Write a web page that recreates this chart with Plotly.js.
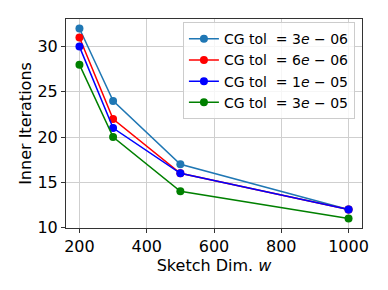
<!DOCTYPE html>
<html>
<head>
<script src="https://cdn.plot.ly/plotly-3.0.1.min.js"></script>
<style>body{margin:0;padding:0;background:#fff;} #chart{width:388px;height:290px;}</style>
</head>
<body>
<div id="chart"></div>
<script>
var sketchDims = [200, 300, 500, 1000];
var seriesNames = ["CG tol  = 3<i>e</i> − 06", "CG tol  = 6<i>e</i> − 06", "CG tol  = 1<i>e</i> − 05", "CG tol  = 3<i>e</i> − 05"];
var tol3e06 = [32, 24, 17, 12];
var tol6e06 = [31, 22, 16, 12];
var tol1e05 = [30, 21, 16, 12];
var tol3e05 = [28, 20, 14, 11];
var colors = ["#1f77b4", "#ff0000", "#0000ff", "#008000"];
var xTicks = [200, 400, 600, 800, 1000];
var yTicks = [10, 15, 20, 25, 30];

var allSeries = [tol3e06, tol6e06, tol1e05, tol3e05];
var traces = allSeries.map(function(ys, i) {
  return {
    x: sketchDims, y: ys, name: seriesNames[i], type: "scatter", mode: "lines+markers",
    line: {color: colors[i], width: 1.5},
    marker: {color: colors[i], size: 8}
  };
});

var layout = {
  width: 388, height: 290,
  margin: {l: 66, r: 26, t: 19, b: 62},
  paper_bgcolor: "#fff", plot_bgcolor: "#fff",
  font: {family: "DejaVu Sans", size: 16, color: "#000"},
  showlegend: true,
  legend: {
    x: 0.395, y: 0.985, xanchor: "left", yanchor: "top",
    bgcolor: "rgba(255,255,255,0.8)", bordercolor: "#cccccc", borderwidth: 1,
    font: {family: "DejaVu Sans", size: 14, color: "#000"},
    tracegroupgap: 0, itemwidth: 30
  },
  xaxis: {
    range: [160, 1040], tickvals: xTicks, ticktext: xTicks.map(String),
    showgrid: true, gridcolor: "#cfcfcf", gridwidth: 1,
    zeroline: false, showline: true, linecolor: "#333", linewidth: 1, mirror: true,
    ticks: "outside", ticklen: 4, tickcolor: "#333",
    tickfont: {size: 16},
    title: {text: "Sketch Dim. <i>w</i>", font: {size: 16}, standoff: 1}
  },
  yaxis: {
    range: [9.95, 33.05], tickvals: yTicks, ticktext: yTicks.map(String),
    showgrid: true, gridcolor: "#cfcfcf", gridwidth: 1,
    zeroline: false, showline: true, linecolor: "#333", linewidth: 1, mirror: true,
    ticks: "outside", ticklen: 4, tickcolor: "#333",
    tickfont: {size: 16},
    title: {text: "Inner Iterations", font: {size: 16}, standoff: 1}
  }
};
Plotly.newPlot("chart", traces, layout, {staticPlot: true, displayModeBar: false});
</script>
</body>
</html>
